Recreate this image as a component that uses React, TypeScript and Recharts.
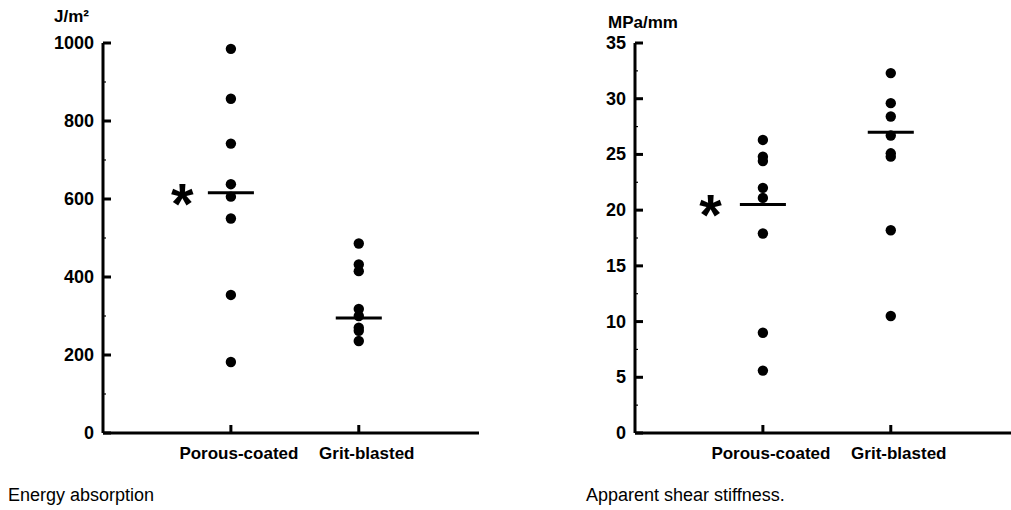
import { ScatterChart, Scatter, XAxis, YAxis, ReferenceLine } from "recharts";

// categories on the x axis (positions 1 and 2)
const categories = ["Porous-coated", "Grit-blasted"];

// Energy absorption (J/m2)
const energyPorous = [985, 857, 742, 638, 606, 550, 354, 182];
const energyGrit = [486, 432, 415, 318, 300, 270, 262, 236];
const energyMean = [616, 295];
const energyTicks = [0, 200, 400, 600, 800, 1000];
const energyMinorTicks = [100, 300, 500, 700, 900];
const energyStar = { x: 0.62, y: 610 };

// Apparent shear stiffness (MPa/mm)
const stiffPorous = [26.3, 24.8, 24.4, 22.0, 21.1, 17.9, 9.0, 5.6];
const stiffGrit = [32.3, 29.6, 28.4, 26.7, 25.1, 24.8, 18.2, 10.5];
const stiffMean = [20.5, 27.0];
const stiffTicks = [0, 5, 10, 15, 20, 25, 30, 35];
const stiffMinorTicks = [2.5, 7.5, 12.5, 17.5, 22.5, 27.5, 32.5];
const stiffStar = { x: 0.59, y: 20.4 };

const FONT = "'Liberation Sans', Arial, Helvetica, sans-serif";

const Dot = (p: any) => <circle cx={p.cx} cy={p.cy} r={5.2} fill="#000" />;

const Star = (p: any) => (
  <text
    x={p.cx}
    y={p.cy + 29}
    textAnchor="middle"
    fontFamily={FONT}
    fontWeight="bold"
    fontSize={58}
    fill="#000"
  >
    *
  </text>
);

const makeYTick = (majors: number[]) => (props: any) => {
  const { x, y, payload } = props;
  const major = majors.includes(payload.value);
  return (
    <g>
      <line
        x1={x}
        x2={x + (major ? 8 : 3)}
        y1={y}
        y2={y}
        stroke="#000"
        strokeWidth={major ? 3 : 1.2}
      />
      {major && (
        <text
          x={x - 9}
          y={y + 6}
          textAnchor="end"
          fontFamily={FONT}
          fontWeight="bold"
          fontSize={18}
          fill="#000"
        >
          {payload.value}
        </text>
      )}
    </g>
  );
};

const XTick = (props: any) => {
  const { x, y, payload } = props;
  return (
    <g>
      <line x1={x} x2={x} y1={y} y2={y - 8} stroke="#000" strokeWidth={3} />
      <text
        x={x + 8}
        y={y + 26}
        textAnchor="middle"
        fontFamily={FONT}
        fontWeight="bold"
        fontSize={17}
        fill="#000"
      >
        {categories[payload.value - 1]}
      </text>
    </g>
  );
};

interface PanelProps {
  porous: number[];
  grit: number[];
  means: number[];
  ticks: number[];
  minorTicks: number[];
  max: number;
  star: { x: number; y: number };
  width: number;
  right: number;
}

function Panel({ porous, grit, means, ticks, minorTicks, max, star, width, right }: PanelProps) {
  const porousData = porous.map((v) => ({ x: 1, y: v }));
  const gritData = grit.map((v) => ({ x: 2, y: v }));
  const allTicks = [...ticks, ...minorTicks].sort((a, b) => a - b);

  return (
    <ScatterChart width={width} height={470} margin={{ top: 43, right, bottom: 7, left: 0 }}>
      <XAxis
        type="number"
        dataKey="x"
        domain={[0, 2.94]}
        allowDataOverflow
        ticks={[1, 2]}
        height={30}
        tickSize={0}
        tickMargin={0}
        tickLine={false}
        axisLine={{ stroke: "#000", strokeWidth: 3 }}
        tick={<XTick />}
      />
      <YAxis
        type="number"
        dataKey="y"
        domain={[0, max]}
        allowDataOverflow
        ticks={allTicks}
        interval={0}
        width={103}
        tickSize={0}
        tickMargin={0}
        tickLine={false}
        axisLine={{ stroke: "#000", strokeWidth: 3 }}
        tick={makeYTick(ticks)}
      />
      <Scatter data={porousData} shape={Dot} isAnimationActive={false} />
      <Scatter data={gritData} shape={Dot} isAnimationActive={false} />
      <Scatter data={[star]} shape={Star} isAnimationActive={false} />
      {means.map((m, i) => (
        <ReferenceLine
          key={i}
          segment={[
            { x: i + 1 - 0.18, y: m },
            { x: i + 1 + 0.18, y: m },
          ]}
          stroke="#000"
          strokeWidth={3}
        />
      ))}
    </ScatterChart>
  );
}

export default function App() {
  const unitStyle: React.CSSProperties = {
    position: "absolute",
    fontFamily: FONT,
    fontWeight: "bold",
    fontSize: 17,
    lineHeight: "20px",
    color: "#000",
  };
  const captionStyle: React.CSSProperties = {
    position: "absolute",
    fontFamily: FONT,
    fontSize: 18,
    color: "#000",
  };
  return (
    <div
      style={{
        position: "absolute",
        left: 0,
        top: 0,
        width: 1011,
        height: 510,
        background: "#fff",
        overflow: "hidden",
      }}
    >
      <div style={{ position: "absolute", left: 0, top: 0 }}>
        <Panel
          porous={energyPorous}
          grit={energyGrit}
          means={energyMean}
          ticks={energyTicks}
          minorTicks={energyMinorTicks}
          max={1000}
          star={energyStar}
          width={500}
          right={21}
        />
      </div>
      <div style={{ position: "absolute", left: 532, top: 0 }}>
        <Panel
          porous={stiffPorous}
          grit={stiffGrit}
          means={stiffMean}
          ticks={stiffTicks}
          minorTicks={stiffMinorTicks}
          max={35}
          star={stiffStar}
          width={479}
          right={0}
        />
      </div>
      <div style={{ ...unitStyle, left: 54, top: 7 }}>J/m²</div>
      <div style={{ ...unitStyle, left: 608, top: 13 }}>MPa/mm</div>
      <div style={{ ...captionStyle, left: 8, top: 485 }}>Energy absorption</div>
      <div style={{ ...captionStyle, left: 586, top: 485 }}>Apparent shear stiffness.</div>
    </div>
  );
}
